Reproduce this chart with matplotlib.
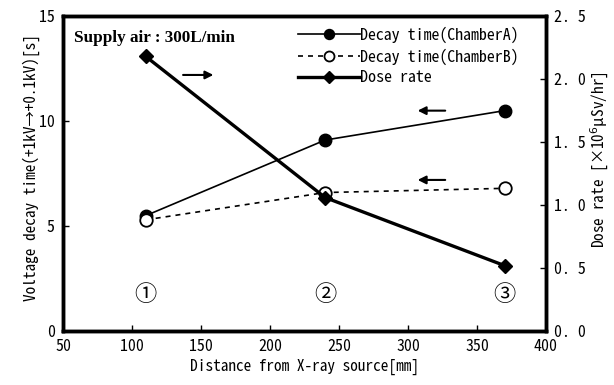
import numpy as np
import matplotlib.pyplot as plt

plt.rcParams['font.family'] = ['Noto Sans Mono CJK JP', 'Noto Sans CJK JP', 'DejaVu Sans']

# data
distance = [110, 240, 370]
decay_a = [5.5, 9.1, 10.5]
decay_b = [5.3, 6.6, 6.8]
dose_rate = [2.18, 1.06, 0.52]
point_labels = ['①', '②', '③']

fig = plt.figure(figsize=(6.14, 3.85), dpi=100)
ax = fig.add_axes([0.1026, 0.140, 0.7866, 0.818])
ax2 = ax.twinx()

la, = ax.plot(distance, decay_a, color='black', lw=1.2, marker='o', ms=9,
              label='Decay time(ChamberA)')
lb, = ax.plot(distance, decay_b, color='black', lw=1.2, ls=(0, (3, 3)), marker='o', ms=9,
              mfc='white', mew=1.3, label='Decay time(ChamberB)')
ld, = ax2.plot(distance, dose_rate, color='black', lw=2.4, marker='D', ms=7.5,
               label='Dose rate')

ax.set_xlim(50, 400)
ax.set_ylim(0, 15)
ax2.set_ylim(0, 2.5)
ax.set_xticks(np.arange(50, 401, 50))
ax.set_yticks([0, 5, 10, 15])
ax2.set_yticks(np.arange(0, 2.51, 0.5))
ax2.set_yticklabels(['0. 0', '0. 5', '1. 0', '1. 5', '2. 0', '2. 5'])

for a in (ax, ax2):
    for s in a.spines.values():
        s.set_linewidth(2.5)
    a.tick_params(direction='in', length=4, width=1, labelsize=11.5, pad=6)

ax.set_xlabel('Distance from X-ray source[mm]', fontsize=11, labelpad=3)
ax.set_ylabel('Voltage decay time(+1kV→+0.1kV)[s]', fontsize=11, va='center')
ax.yaxis.set_label_coords(-0.066, 0.52)
ax2.set_ylabel('Dose rate [×10$^6$μSv/hr]', fontsize=11)
ax2.yaxis.label.set_verticalalignment('center')
ax2.yaxis.set_label_coords(1.112, 0.543)

ax.text(0.022, 0.955, 'Supply air : 300L/min', transform=ax.transAxes,
        fontsize=12.3, fontweight='bold', family='Liberation Serif', va='top')

for x, t in zip(distance, point_labels):
    ax.text(x, 1.7, t, fontsize=16, ha='center', va='center')

arrow = dict(arrowstyle='-|>', color='black', lw=1.5, mutation_scale=12)
ax.annotate('', xy=(161, 12.2), xytext=(135, 12.2), arrowprops=arrow)
ax.annotate('', xy=(305, 10.5), xytext=(329, 10.5), arrowprops=arrow)
ax.annotate('', xy=(305, 7.2), xytext=(329, 7.2), arrowprops=arrow)

ax2.legend([la, lb, ld], [la.get_label(), lb.get_label(), ld.get_label()],
           loc='upper left', bbox_to_anchor=(0.487, 0.967), frameon=False,
           fontsize=11.5, handlelength=3.9, handletextpad=0.0, borderpad=0,
           borderaxespad=0, labelspacing=0.34, markerscale=0.8)

fig.savefig('out.png', dpi=100)
